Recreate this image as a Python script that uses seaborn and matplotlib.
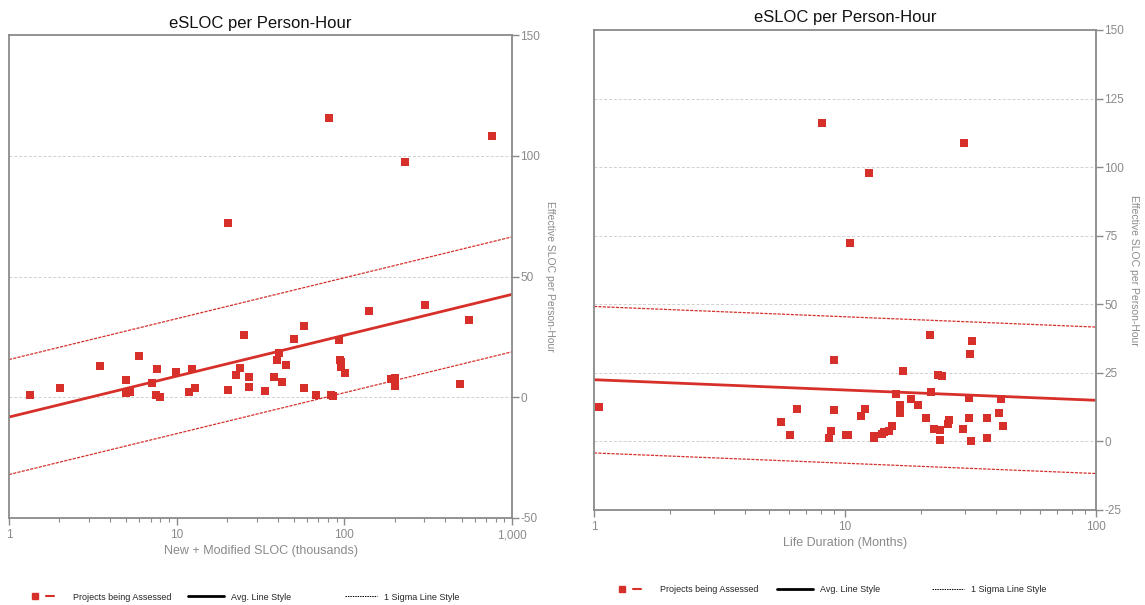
import numpy as np
import pandas as pd
import matplotlib
matplotlib.use("Agg")
import matplotlib.pyplot as plt
from matplotlib.lines import Line2D
from matplotlib.legend_handler import HandlerTuple
from matplotlib.ticker import FixedLocator, FixedFormatter, LogLocator, NullFormatter
import seaborn as sns

# ---------------- data ----------------
sloc_k = [1.34, 2.01, 3.49, 4.97, 4.97, 5.3, 6.0, 7.16, 7.48, 7.67, 8.0, 9.95, 11.9, 12.4, 12.9,
          20.1, 22.5, 23.9, 25.1, 26.9, 27.0, 33.6, 38.1, 39.6, 40.8, 42.5, 44.6, 50.0, 57.1, 57.6,
          68.1, 83.3, 85.4, 93.4, 94.7, 95.6, 95.6, 100.5, 139.7, 188.7, 201, 201, 301, 488, 554,
          20.1, 81.3, 228.6, 755]
sloc_rate = [0.8, 3.8, 12.9, 7.1, 1.8, 2.2, 17.1, 5.9, 1.0, 11.6, 0.1, 10.3, 2.2, 11.9, 3.8,
             3.2, 9.3, 12.1, 25.6, 4.2, 8.5, 2.5, 8.5, 15.3, 18.2, 6.3, 13.3, 24.1, 4.0, 29.6,
             0.8, 1.0, 0.5, 23.7, 15.6, 14.5, 12.7, 10.1, 35.9, 7.4, 7.8, 4.7, 38.1, 5.6, 31.8,
             72.0, 115.7, 97.4, 108.2]

months = [1.05, 5.58, 6.06, 6.41, 8.6, 8.79, 9.06, 9.06, 10.1, 10.3, 11.56, 12.0, 13.06, 13.1,
          14.06, 14.3, 15.0, 15.35, 16.0, 16.6, 16.6, 17.1, 18.3, 19.5, 21.1, 21.9, 22.0, 22.6,
          23.4, 24.0, 24.0, 24.4, 25.7, 26.0, 29.6, 31.1, 31.1, 31.5, 31.7, 32.1, 36.9, 36.9,
          41.0, 41.9, 42.6, 8.07, 10.5, 12.5, 29.9]
month_rate = [12.7, 7.1, 2.4, 12.0, 1.2, 3.8, 29.8, 11.6, 2.4, 2.2, 9.4, 12.0, 1.3, 2.1,
              2.7, 3.4, 3.8, 5.8, 17.4, 13.4, 10.5, 25.8, 15.5, 13.1, 8.6, 38.7, 18.2, 4.4,
              24.3, 0.5, 4.1, 24.0, 6.5, 7.9, 4.7, 15.7, 8.7, 32.0, 0.0, 36.7, 1.1, 8.5,
              10.5, 15.3, 5.8, 116.2, 72.2, 97.8, 108.7]

left_fit_x = [1, 1000]
left_fit_y = [-8.2, 42.6]
left_sigma = 23.8
right_fit_x = [1, 100]
right_fit_y = [22.5, 15.0]
right_sigma = 26.7

left_xticks = [1, 10, 100, 1000]
left_xlabels = ["1", "10", "100", "1,000"]
left_yticks = [-50, 0, 50, 100, 150]
right_xticks = [1, 10, 100]
right_xlabels = ["1", "10", "100"]
right_yticks = [-25, 0, 25, 50, 75, 100, 125, 150]

title = "eSLOC per Person-Hour"
ylabel = "Effective SLOC per Person-Hour"
left_xlabel = "New + Modified SLOC (thousands)"
right_xlabel = "Life Duration (Months)"
legend_labels = ["Projects being Assessed", "Avg. Line Style", "1 Sigma Line Style"]

# ---------------- style ----------------
sns.set_theme(style="white")
plt.rcParams["font.family"] = ["Liberation Sans", "DejaVu Sans"]
plt.rcParams["axes.unicode_minus"] = False

RED = "#d7302a"
GREY = "#8a8a8a"

fig = plt.figure(figsize=(11.45, 6.05), dpi=100)
ax1 = fig.add_axes([9 / 1145, 87 / 605, 503 / 1145, 483 / 605])
ax2 = fig.add_axes([594 / 1145, 95 / 605, 502 / 1145, 480 / 605])


def draw(ax, xs, ys, fit_x, fit_y, sigma, xticks, xlabels, yticks, xlabel, ttl_pad):
    df = pd.DataFrame({"x": xs, "y": ys})
    fx = np.array(fit_x, dtype=float)
    fy = np.array(fit_y, dtype=float)
    fits = pd.DataFrame({
        "x": np.concatenate([fx, fx, fx]),
        "y": np.concatenate([fy, fy + sigma, fy - sigma]),
        "kind": ["avg"] * 2 + ["up"] * 2 + ["lo"] * 2,
    })
    ax.set_xscale("log")
    for yt in yticks[1:-1]:
        ax.axhline(yt, color="#d0d0d0", lw=0.7, ls=(0, (3, 2)), zorder=0)
    sns.lineplot(data=fits[fits.kind == "avg"], x="x", y="y", ax=ax, color=RED, lw=2.0, zorder=2)
    for k in ["up", "lo"]:
        sns.lineplot(data=fits[fits.kind == k], x="x", y="y", ax=ax, color=RED, lw=0.9,
                     dashes=False, zorder=2).lines[-1].set_dashes((2.5, 1.0))
    sns.scatterplot(data=df, x="x", y="y", ax=ax, marker="s", s=26, color=RED, linewidth=0,
                    zorder=3)
    ax.set_xlim(xticks[0], xticks[-1])
    ax.set_ylim(yticks[0], yticks[-1])
    ax.xaxis.set_major_locator(FixedLocator(xticks))
    ax.xaxis.set_major_formatter(FixedFormatter(xlabels))
    ax.xaxis.set_minor_locator(LogLocator(base=10, subs=np.arange(2, 10), numticks=20))
    ax.xaxis.set_minor_formatter(NullFormatter())
    ax.yaxis.set_major_locator(FixedLocator(yticks))
    ax.yaxis.tick_right()
    ax.yaxis.set_label_position("right")
    ax.tick_params(axis="both", which="major", direction="out", length=5, width=1,
                   color=GREY, labelcolor=GREY, labelsize=8.5, pad=1)
    ax.tick_params(axis="x", which="minor", direction="out", length=3, width=0.8,
                   color=GREY, bottom=True)
    ax.tick_params(axis="x", which="major", bottom=True, pad=3)
    ax.tick_params(axis="y", which="major", right=True, left=False)
    for sp in ax.spines.values():
        sp.set_visible(True)
        sp.set_color(GREY)
        sp.set_linewidth(1.3)
    ax.set_xlabel(xlabel, color=GREY, fontsize=9, labelpad=3)
    ax.set_ylabel(ylabel, color=GREY, fontsize=7.5, rotation=270, labelpad=11)
    ax.set_title(title, fontsize=12, color="#111111", pad=ttl_pad)
    leg = ax.get_legend()
    if leg:
        leg.remove()


draw(ax1, sloc_k, sloc_rate, left_fit_x, left_fit_y, left_sigma,
     left_xticks, left_xlabels, left_yticks, left_xlabel, 5)
draw(ax2, months, month_rate, right_fit_x, right_fit_y, right_sigma,
     right_xticks, right_xlabels, right_yticks, right_xlabel, 6)

# legends (one entry each, placed along the bottom)
h_marker = Line2D([], [], color=RED, marker="s", markersize=5, linestyle="none")
h_dash = Line2D([], [], color=RED, lw=1.5)
h_avg = Line2D([], [], color="black", lw=2.0)
h_sig = Line2D([], [], color="black", lw=0.7, ls=(0, (1.5, 1)))
FS = 6.5
fs_px = FS * 100 / 72
entries = [((h_marker, h_dash), legend_labels[0], 23, 19),
           (h_avg, legend_labels[1], 36, 7),
           (h_sig, legend_labels[2], 32, 7)]
rows = [(597, [31, 188, 345]), (590, [618, 777, 932])]
for yc, xs0 in rows:
    for (h, lab, hl, tp), x0 in zip(entries, xs0):
        fig.legend([h], [lab],
                   handler_map={tuple: HandlerTuple(ndivide=None, pad=0.8)},
                   loc="center left", bbox_to_anchor=(x0 / 1145, (605 - yc) / 605),
                   frameon=False, fontsize=FS, borderpad=0, borderaxespad=0,
                   handlelength=hl / fs_px, handletextpad=tp / fs_px)

fig.savefig("out.png", dpi=100)
